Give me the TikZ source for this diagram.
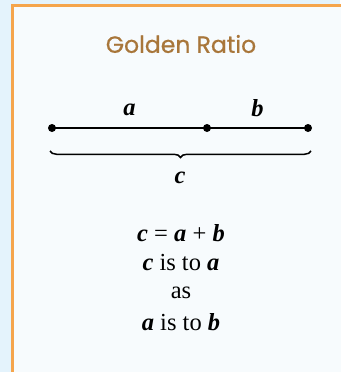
\documentclass[tikz,border=0pt]{standalone}
\usepackage{fontspec}
\setmainfont{Liberation Serif}
\newfontfamily\titlefont[FakeBold=0.6]{Poppins}
\usetikzlibrary{decorations.pathreplacing}
\definecolor{outerbg}{HTML}{E4F3FC}
\definecolor{innerbg}{HTML}{F7FBFD}
\definecolor{frameorange}{HTML}{F5A54C}
\definecolor{titlegold}{HTML}{A8763A}
\tikzset{
  seg/.style={line width=2.4pt, black},
  pt/.style={circle, fill=black, inner sep=0pt, minimum size=8pt},
  lbl/.style={font=\fontsize{24.5}{28}\selectfont\bfseries\itshape, inner sep=0pt},
  body/.style={font=\fontsize{24.5}{29.5}\selectfont, align=center, inner sep=0pt},
  brace/.style={decorate, decoration={brace, mirror, amplitude=6.5pt}, line width=1.5pt}
}
\begin{document}
\begin{tikzpicture}[x=1pt, y=-1pt]
\useasboundingbox (0,0) rectangle (340,372);
\fill[outerbg] (0,0) rectangle (340,372);
\fill[innerbg] (12.5,5.5) rectangle (345,380);
\draw[frameorange, line width=3pt] (12.5,385) -- (12.5,5.5) -- (345,5.5);
\node[font=\titlefont\fontsize{23.5}{28}\selectfont, text=titlegold, inner sep=0pt] (title) at (181,44) {Golden Ratio};
\node[pt] (p1) at (52,128) {};
\node[pt] (p2) at (207,128) {};
\node[pt] (p3) at (308,128) {};
\draw[seg] (p1.center) -- (p2.center) -- (p3.center);
\node[lbl] (la) at (129.5,110) {a};
\node[lbl] (lb) at (257.5,108) {b};
\coordinate (bl) at (50,151);
\coordinate (br) at (311,151);
\draw[brace] (bl) -- (br);
\node[lbl] (lc) at (180,178) {c};
\node[body] (eq) at (181,233) {\textbf{\textit{c}} = \textbf{\textit{a}} + \textbf{\textit{b}}};
\node[body] (l2) at (181,263) {\textbf{\textit{c}} is to \textbf{\textit{a}}};
\node[body] (l3) at (181,292.5) {as};
\node[body] (l4) at (181,322) {\textbf{\textit{a}} is to \textbf{\textit{b}}};
\end{tikzpicture}
\end{document}
